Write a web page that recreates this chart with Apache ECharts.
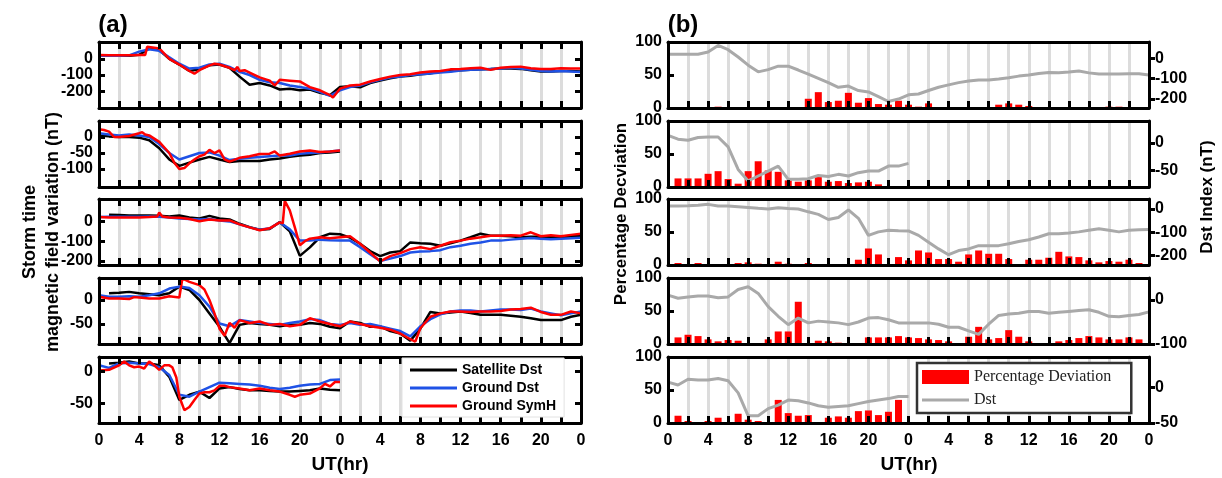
<!DOCTYPE html>
<html>
<head>
<meta charset="utf-8">
<title>Storm time magnetic field variation</title>
<script src="https://cdn.jsdelivr.net/npm/echarts@6/dist/echarts.min.js"></script>
<style>
  html, body { margin: 0; padding: 0; background: #fff; }
  #chart { width: 1222px; height: 478px; }
</style>
</head>
<body>
<div id="chart"></div>
<script>
// hourly time axis, 0..48 UT hours (two days)
const HOURS = [0,1,2,3,4,5,6,7,8,9,10,11,12,13,14,15,16,17,18,19,20,21,22,23,24,
  25,26,27,28,29,30,31,32,33,34,35,36,37,38,39,40,41,42,43,44,45,46,47,48]
const X_LABELS = ['0','4','8','12','16','20','0','4','8','12','16','20','0']

// ---------- (a) storm time magnetic field variation (nT) ----------
// panel 1
const sat1 = [20,20,20,20,25,65,55,0,-35,-75,-65,-40,-35,-55,-110,-160,-150,-165,-190,-185,-195,-190,-210,-225,-175,
  -170,-176,-150,-135,-120,-110,-105,-95,-90,-80,-75,-70,-68,-65,-63,-60,-60,-62,-70,-78,-78,-75,-75,-78]
const gnd1 = [20,20,20,22,45,60,50,10,-30,-60,-55,-35,-30,-50,-80,-100,-130,-145,-150,-165,-175,-185,-205,-230,-195,
  -175,-165,-145,-130,-115,-110,-100,-95,-90,-85,-80,-72,-68,-66,-62,-60,-55,-60,-68,-75,-78,-75,-78,-82]
const symT1 = [0,1,2,3,4,4.6,4.8,5.5,6,7,8,9,9.5,10,11,11.5,12,13,13.5,13.8,14,14.5,15,16,17,17.5,18,19,20,21,22,23,23.3,24,
  25,26,27,28,29,30,31,32,33,34,35,36,37,38,39,40,41,42,43,44,45,46,47,48]
const symV1 = [25,22,22,22,25,25,75,70,65,0,-35,-75,-92,-70,-40,-30,-35,-55,-70,-50,-75,-70,-85,-115,-135,-165,-130,-135,-140,-175,-195,-225,-240,-185,
  -165,-160,-140,-125,-110,-100,-95,-85,-78,-75,-65,-62,-58,-55,-68,-55,-50,-48,-58,-62,-62,-58,-60,-60]
// panel 2
const sat2 = [5,2,0,0,-2,-10,-35,-70,-90,-80,-70,-62,-70,-78,-75,-75,-75,-70,-67,-62,-58,-55,-50,-48,-45]
const gnd2 = [12,8,5,8,5,0,-22,-50,-70,-60,-50,-48,-58,-72,-68,-65,-62,-60,-58,-58,-52,-50,-48,-45,-42]
const symT2 = [0,0.5,1,1.5,2,3,4,4.3,4.6,5,6,7,7.5,8,8.5,9,9.5,10,10.5,11,11.5,12,12.5,13,14,15,16,17,17.5,18,19,20,21,22,23,24]
const symV2 = [24,22,17,0,0,3,12,15,8,5,-15,-50,-80,-100,-97,-82,-70,-60,-55,-40,-50,-42,-70,-77,-65,-60,-53,-52,-45,-58,-52,-45,-42,-47,-45,-42]
// panel 3
const sat3 = [null,34,32,30,30,30,28,25,30,20,15,28,15,10,-12,-29,-42,-38,-3,-50,-174,-131,-80,-62,-65,
  -82,-113,-150,-175,-157,-150,-106,-110,-113,-123,-110,-97,-80,-62,-72,-72,-75,-80,-78,-78,-80,-80,-75,-72]
const gnd3 = [22,24,24,24,24,25,24,20,15,12,10,12,5,0,-15,-30,-42,-35,-5,-40,-97,-97,-92,-95,-97,
  -97,-130,-165,-200,-188,-175,-157,-152,-150,-145,-130,-123,-113,-106,-97,-97,-92,-87,-84,-87,-90,-87,-85,-82]
const symT3 = [0,1,2,3,4,5,5.8,6,6.3,7,8,9,10,11,12,13,14,15,16,17,18,18.3,18.5,19,19.5,20,20.5,21,22,23,24,
  25,26,27,28,29,30,31,32,33,34,35,36,37,38,39,40,41,42,43,44,45,46,47,48]
const symV3 = [22,20,20,20,20,22,25,45,25,20,18,12,1,10,5,5,-15,-30,-45,-35,-5,-10,104,56,-30,-120,-100,-87,-80,-85,-80,
  -75,-113,-157,-202,-175,-160,-140,-130,-140,-123,-105,-97,-87,-80,-72,-72,-70,-72,-55,-75,-70,-75,-68,-62]
// panel 4
const sat4 = [null,14,15,17,14,12,10,14,28,21,0,-28,-56,-90,-52,-48,-50,-52,-55,-52,-52,-48,-50,-56,-59,
  -45,-48,-56,-55,-65,-70,-85,-60,-25,-28,-26,-24,-27,-31,-31,-31,-33,-35,-38,-42,-42,-42,-35,-31]
const gnd4 = [10,7,7,8,7,10,14,24,28,25,10,-14,-49,-55,-42,-45,-48,-50,-52,-48,-45,-40,-42,-50,-52,
  -48,-52,-50,-55,-60,-65,-76,-55,-40,-30,-24,-22,-22,-24,-22,-20,-20,-21,-18,-24,-28,-32,-28,-24]
const symT4 = [0,1,2,3,3.5,4,5,6,7,8,8.3,9,10,10.5,11,11.5,12,12.5,13,13.5,14,15,16,17,18,19,20,21,22,23,24,
  25,26,27,28,29,30,31,31.5,32,33,34,35,36,37,38,39,40,41,42,43,44,45,46,47,48]
const symV4 = [7,3,3,2,6,5,3,3,8,5,45,38,31,22,0,-28,-60,-75,-48,-58,-42,-48,-45,-52,-50,-55,-52,-38,-45,-50,-55,
  -45,-50,-55,-58,-62,-70,-82,-87,-59,-35,-28,-24,-24,-25,-24,-24,-23,-20,-19,-16,-25,-31,-31,-24,-28]
// panel 5
const sat5 = [null,12,13,15,12,12,9,-9,-45,-37,-32,-42,-27,-25,-28,-30,-30,-31,-32,-32,-31,-30,-27,-29,-30]
const gnd5 = [9,5,12,13,12,11,6,-6,-37,-40,-32,-25,-18,-19,-20,-21,-23,-26,-28,-26,-23,-21,-20,-14,-13]
const symT5 = [0,1,2,2.5,3,3.5,4,4.5,5,5.5,6,6.5,7,7.3,7.7,8,8.5,9,9.5,10,10.5,11,11.5,12,12.5,13,14,15,16,17,18,19,19.5,20,21,22,22.5,23,23.5,24]
const symV5 = [1,2,9,15,9,6,7,4,15,9,2,9,9,6,-10,-40,-61,-56,-45,-35,-33,-33,-30,-23,-23,-25,-27,-30,-27,-30,-32,-37,-40,-37,-35,-27,-20,-24,-17,-17]

const ticksA = [[-200,-100,0],[-100,-50,0],[-200,-100,0],[-50,0],[-50,0]]
const rangeA = [[-305,105],[-156,50],[-220,113],[-92,46],[-81,22]]

// ---------- (b) percentage deviation (%) and Dst (nT) ----------
const pct1 = [0,0,0,0,1,2,0,0,0,1,0,0,0,0,14,24,9,11,23,8,15,6,5,11,5,2,7,0,0,0,1,0,0,5,7,5,3,0,0,0,0,0,0,0,2,2,0,0]
const dst1 = [20,20,20,20,31,63,42,6,-34,-67,-56,-39,-39,-58,-78,-99,-120,-143,-137,-159,-166,-189,-213,-201,-180,
  -176,-159,-143,-131,-120,-112,-107,-107,-102,-96,-88,-83,-75,-70,-72,-68,-63,-72,-78,-78,-78,-76,-76,-83]
const pct2 = [0,13,13,13,20,24,12,5,24,39,25,23,10,8,10,15,8,9,6,7,8,4,0,0]
const dst2 = [14,7,5,10,11,11,-7,-48,-69,-60,-51,-42,-66,-66,-65,-59,-61,-57,-60,-54,-51,-51,-42,-42,-37]
const pct3 = [0,3,0,3,1,0,0,3,4,2,0,5,2,0,3,0,0,0,0,8,25,16,0,12,7,22,19,9,9,5,16,22,17,17,9,0,8,8,11,20,13,12,7,4,6,5,8,3]
const dst3 = [13,13,14,16,20,13,13,10,7,3,0,5,2,0,-12,-23,-45,-36,-4,-40,-113,-98,-91,-93,-94,
  -113,-142,-171,-196,-178,-171,-157,-157,-157,-149,-139,-132,-120,-106,-106,-103,-98,-91,-85,-91,-98,-91,-89,-88]
const pct4 = [0,10,14,12,7,4,6,5,0,0,7,19,19,64,0,5,4,2,0,0,10,10,10,12,10,9,7,6,4,0,11,26,7,9,21,11,4,0,0,4,6,9,12,10,7,7,10,7]
const dst4 = [11,4,7,9,9,5,7,24,30,15,-15,-37,-56,-41,-52,-48,-50,-52,-56,-50,-41,-40,-45,-52,-52,
  -52,-52,-55,-62,-62,-70,-78,-55,-35,-32,-30,-26,-26,-30,-28,-26,-24,-22,-28,-37,-38,-35,-33,-27]
const pct5 = [0,11,3,0,3,8,0,14,5,3,0,35,15,11,12,0,8,10,8,18,19,12,17,35]
const dst5 = [7,3,11,10,10,12,9,-8,-40,-40,-30,-25,-18,-19,-22,-26,-28,-27,-26,-23,-20,-18,-16,-13,-13]

const ticksB = [[-200,-100,0],[-50,0],[-200,-100,0],[-100,0],[-50,0]]
const rangeB = [[-245,80],[-80,40],[-240,43],[-100,50],[-50,42]]

const satA = [sat1, sat2, sat3, sat4, sat5]
const gndA = [gnd1, gnd2, gnd3, gnd4, gnd5]
const symTA = [symT1, symT2, symT3, symT4, symT5]
const symVA = [symV1, symV2, symV3, symV4, symV5]
const pctB = [pct1, pct2, pct3, pct4, pct5]
const dstB = [dst1, dst2, dst3, dst4, dst5]

const pair = (xs, ys) => ys.map((y, i) => [xs[i], y])

const FONT = '"Liberation Sans", Arial, sans-serif'
const TOPS = [42, 121, 199, 278, 357]
const LINE_ICON = 'path://M0,0H47V3H0Z'

const frame = () => ({show: true, onZero: false, lineStyle: {color: '#000', width: 3}})
const tick = (inside, len, values) => {
  const t = {show: true, inside: inside, length: len, lineStyle: {color: '#000', width: 3}}
  if (values) t.customValues = values
  return t
}
const label = (extra) => ({color: '#000', fontSize: 16, fontWeight: 'bold', fontFamily: FONT, ...extra})

let grid = [], xAxis = [], yAxis = [], series = []

// gray stripes every 2 h, on their own axis in the bottom layer
function stripeAxis(g) {
  return {
    gridIndex: g, type: 'value', min: 0, max: 48, interval: 2, position: 'bottom', zlevel: 0, z: 0,
    axisLine: {show: false, onZero: false}, axisTick: {show: false}, axisLabel: {show: false},
    splitLine: {show: true, showMinLine: false, showMaxLine: false, lineStyle: {color: '#dcdcdc', width: 3}}
  }
}
// frame, ticks and labels live in an upper layer so the stripes can't cover them
function xAxisFor(g, withLabels, top, ticks) {
  return {
    gridIndex: g, type: 'value', min: 0, max: 48, interval: 2, zlevel: 1,
    position: top ? 'top' : 'bottom',
    axisLine: frame(),
    axisTick: ticks ? tick(true, 7) : {show: false},
    splitLine: {show: false},
    axisLabel: label({
      show: true, margin: 10,
      formatter: v => withLabels && v % 4 === 0 ? X_LABELS[v / 4] : ''
    })
  }
}

for (let i = 0; i < 5; i++) {
  // left column (a)
  const g = grid.length
  grid.push({left: 99, top: TOPS[i], width: 482, height: 66})
  const xs = xAxis.length
  xAxis.push(stripeAxis(g))
  xAxis.push(xAxisFor(g, i === 4, false, true))
  xAxis.push(xAxisFor(g, false, true, true))
  const yl = yAxis.length
  yAxis.push({
    gridIndex: g, type: 'value', min: rangeA[i][0], max: rangeA[i][1], position: 'left', zlevel: 1,
    axisLine: frame(), splitLine: {show: false},
    axisTick: tick(true, 6, ticksA[i]),
    axisLabel: label({margin: 6, hideOverlap: false, customValues: ticksA[i]})
  })
  yAxis.push({
    gridIndex: g, type: 'value', min: rangeA[i][0], max: rangeA[i][1], position: 'right', zlevel: 1,
    axisLine: frame(), splitLine: {show: false},
    axisTick: tick(true, 6, ticksA[i]),
    axisLabel: label({customValues: ticksA[i], formatter: () => ''})
  })
  const lineCommon = {type: 'line', xAxisIndex: xs, yAxisIndex: yl, symbol: 'none', showSymbol: false, animation: false}
  series.push({...lineCommon, name: 'Satellite Dst', data: pair(HOURS, satA[i]), color: '#000', lineStyle: {width: 2.5, color: '#000'}})
  series.push({...lineCommon, name: 'Ground Dst', data: pair(HOURS, gndA[i]), color: '#1f52e6', lineStyle: {width: 2.5, color: '#1f52e6'}})
  series.push({...lineCommon, name: 'Ground SymH', data: pair(symTA[i], symVA[i]), color: '#ff0000', lineStyle: {width: 2.5, color: '#ff0000'}})

  // right column (b)
  const g2 = grid.length
  grid.push({left: 668, top: TOPS[i], width: 481, height: 66})
  const xs2 = xAxis.length
  xAxis.push(stripeAxis(g2))
  xAxis.push(xAxisFor(g2, i === 4, false, true))
  xAxis.push(xAxisFor(g2, false, true, false))
  const yp = yAxis.length
  yAxis.push({
    gridIndex: g2, type: 'value', min: 0, max: 100, interval: 50, position: 'left', zlevel: 1,
    axisLine: frame(), splitLine: {show: false},
    axisTick: tick(true, 6),
    axisLabel: label({margin: 6, hideOverlap: false})
  })
  yAxis.push({
    gridIndex: g2, type: 'value', min: rangeB[i][0], max: rangeB[i][1], position: 'right', zlevel: 1,
    axisLine: frame(), splitLine: {show: false},
    axisTick: tick(false, 6, ticksB[i]),
    axisLabel: label({margin: 6, hideOverlap: false, customValues: ticksB[i]})
  })
  series.push({
    type: 'bar', name: 'Percentage Deviation', xAxisIndex: xs2, yAxisIndex: yp, barWidth: 7,
    data: pair(HOURS, pctB[i]), itemStyle: {color: '#ff0000'}, animation: false
  })
  series.push({
    type: 'line', name: 'Dst', xAxisIndex: xs2, yAxisIndex: yp + 1, symbol: 'none', showSymbol: false,
    data: pair(HOURS, dstB[i]), color: '#a9a9a9', lineStyle: {width: 3, color: '#a9a9a9'}, animation: false
  })
}

const rotText = (text, x, y, size) => ({
  type: 'text', x: x, y: y, rotation: Math.PI / 2,
  style: {text: text, font: 'bold ' + size + 'px ' + FONT, fill: '#000', align: 'center', verticalAlign: 'middle'}
})
const flatText = (text, x, y, size) => ({
  type: 'text', x: x, y: y,
  style: {text: text, font: 'bold ' + size + 'px ' + FONT, fill: '#000', align: 'center', verticalAlign: 'middle'}
})

const chart = echarts.init(document.getElementById('chart'))
chart.setOption({
  animation: false,
  backgroundColor: '#fff',
  grid: grid,
  xAxis: xAxis,
  yAxis: yAxis,
  series: series,
  legend: [
    {
      data: [
        {name: 'Satellite Dst', icon: LINE_ICON},
        {name: 'Ground Dst', icon: LINE_ICON},
        {name: 'Ground SymH', icon: LINE_ICON}
      ],
      orient: 'vertical', left: 402, top: 358, selectedMode: false, symbolKeepAspect: true, zlevel: 2,
      itemWidth: 47, itemHeight: 14, itemGap: 4, padding: [5, 8, 4, 8],
      backgroundColor: '#fff', borderColor: '#e2e2e2', borderWidth: 1,
      textStyle: {fontSize: 14, fontWeight: 'bold', fontFamily: FONT, color: '#000'}
    },
    {
      data: [{name: 'Percentage Deviation', icon: 'rect'}, {name: 'Dst', icon: LINE_ICON}],
      orient: 'vertical', left: 917, top: 363, selectedMode: false, symbolKeepAspect: true, zlevel: 2,
      itemWidth: 47, itemHeight: 14, itemGap: 7, padding: [6, 20, 5, 5],
      backgroundColor: '#fff', borderColor: '#333', borderWidth: 2.5,
      textStyle: {fontSize: 16, fontFamily: '"Liberation Serif", "Times New Roman", serif', color: '#222'}
    }
  ],
  graphic: [
    flatText('(a)', 113, 25, 24),
    flatText('(b)', 683, 25, 24),
    flatText('UT(hr)', 340, 465, 19),
    flatText('UT(hr)', 909, 465, 19),
    rotText('Storm time', 30, 232, 18),
    rotText('magnetic field variation (nT)', 53, 232, 18),
    rotText('Percentage Decviation', 621, 214, 17),
    rotText('Dst Index (nT)', 1207, 197, 17)
  ]
})
</script>
</body>
</html>
